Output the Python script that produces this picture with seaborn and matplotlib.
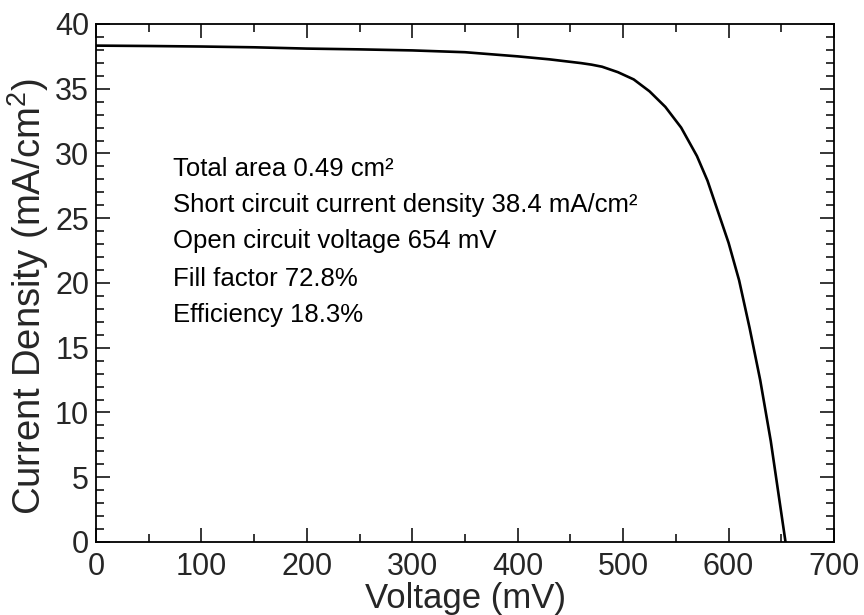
import numpy as np
import pandas as pd
import matplotlib
matplotlib.use("Agg")
import matplotlib.pyplot as plt
import seaborn as sns
from matplotlib.ticker import MultipleLocator

# J-V curve
voltage_mv = [0, 50, 100, 150, 200, 250, 300, 350, 400, 430, 460, 470, 480, 495,
              510, 525, 540, 555, 570, 580, 590, 600, 610, 620, 630, 640, 654]
current_density = [38.33, 38.30, 38.26, 38.20, 38.10, 38.04, 37.96, 37.82, 37.50,
                   37.27, 36.98, 36.86, 36.70, 36.28, 35.72, 34.80, 33.60, 32.00,
                   29.80, 27.90, 25.50, 23.10, 20.20, 16.50, 12.50, 7.80, 0.0]

# cell parameters shown on the plot
info_lines = [
    "Total area 0.49 cm²",
    "Short circuit current density 38.4 mA/cm²",
    "Open circuit voltage 654 mV",
    "Fill factor 72.8%",
    "Efficiency 18.3%",
]
info_y = [28.3, 25.5, 22.7, 19.8, 17.0]

df = pd.DataFrame({"V": voltage_mv, "J": current_density})

sns.set_style("ticks")
plt.rcParams["font.family"] = ["Liberation Sans", "DejaVu Sans"]
plt.rcParams["mathtext.fontset"] = "custom"
plt.rcParams["mathtext.rm"] = "Liberation Sans"
plt.rcParams["mathtext.default"] = "regular"

fig = plt.figure(figsize=(8.64, 6.15), dpi=100)
ax = fig.add_axes([0.1111, 0.1187, 0.8542, 0.8423])

sns.lineplot(data=df, x="V", y="J", color="black", linewidth=1.9, ax=ax)

for txt, y in zip(info_lines, info_y):
    ax.text(73, y, txt, fontsize=18.5, va="baseline", ha="left", color="black")

ax.set_xlim(0, 700)
ax.set_ylim(0, 40)
ax.xaxis.set_major_locator(MultipleLocator(100))
ax.xaxis.set_minor_locator(MultipleLocator(50))
ax.yaxis.set_major_locator(MultipleLocator(5))
ax.yaxis.set_minor_locator(MultipleLocator(1))

ax.tick_params(which="both", direction="in", top=True, right=True, width=1.1, color="black")
ax.tick_params(which="major", length=10, labelsize=22, pad=7)
ax.tick_params(axis="y", which="major", pad=5)
ax.tick_params(which="minor", length=5.8)

ax.set_xlabel("Voltage (mV)", fontsize=25, labelpad=0)
ax.set_ylabel("Current Density (mA/cm$^2$)", fontsize=27.5)
ax.yaxis.set_label_coords(-0.061, 0.473)

for spine in ax.spines.values():
    spine.set_visible(True)
    spine.set_linewidth(1.3)
    spine.set_color("black")

fig.savefig("out.png", dpi=100, facecolor="white")
